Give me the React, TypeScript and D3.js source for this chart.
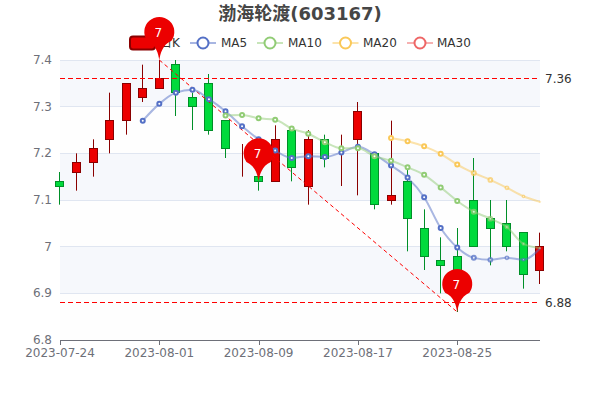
import React from "react";
import * as d3 from "d3";

const dates = ["2023-07-24","2023-07-25","2023-07-26","2023-07-27","2023-07-28","2023-07-31","2023-08-01","2023-08-02","2023-08-03","2023-08-04","2023-08-07","2023-08-08","2023-08-09","2023-08-10","2023-08-11","2023-08-14","2023-08-15","2023-08-16","2023-08-17","2023-08-18","2023-08-21","2023-08-22","2023-08-23","2023-08-24","2023-08-25","2023-08-28","2023-08-29","2023-08-30","2023-08-31","2023-09-01"];
const opens =  [7.14,7.16,7.18,7.23,7.27,7.32,7.34,7.39,7.32,7.35,7.27,7.20,7.15,7.14,7.25,7.13,7.23,7.19,7.23,7.20,7.10,7.14,7.04,6.97,6.98,7.10,7.06,7.05,7.03,6.95];
const closes = [7.13,7.18,7.21,7.27,7.35,7.34,7.36,7.33,7.30,7.25,7.21,7.20,7.14,7.23,7.17,7.23,7.19,7.19,7.29,7.09,7.11,7.06,6.98,6.96,6.90,7.00,7.04,7.00,6.94,7.00];
const lows =   [7.09,7.12,7.15,7.20,7.24,7.31,7.34,7.28,7.25,7.24,7.19,7.15,7.12,7.14,7.14,7.09,7.17,7.13,7.11,7.08,7.09,6.99,6.95,6.90,6.86,7.00,6.96,6.99,6.91,6.92];
const highs =  [7.16,7.20,7.23,7.33,7.35,7.39,7.40,7.40,7.33,7.37,7.27,7.22,7.16,7.26,7.25,7.25,7.24,7.24,7.31,7.20,7.27,7.17,7.08,7.02,7.04,7.19,7.10,7.10,7.03,7.03];

const ma5: (number | null)[] = [null,null,null,null,null,7.27,7.306,7.33,7.336,7.316,7.29,7.258,7.23,7.206,7.19,7.194,7.192,7.202,7.214,7.198,7.174,7.148,7.106,7.04,6.998,6.976,6.972,6.976,6.972,6.996];
const ma10: (number | null)[] = [null,null,null,null,null,null,null,null,null,null,7.281,7.282,7.275,7.272,7.253,7.242,7.224,7.211,7.211,7.194,7.184,7.17,7.154,7.127,7.098,7.075,7.06,7.042,7.006,6.997];
const ma20: (number | null)[] = [null,null,null,null,null,null,null,null,null,null,null,null,null,null,null,null,null,null,null,null,7.233,7.226,7.215,7.199,7.176,7.158,7.143,7.126,7.108,7.096];
const ma30: (number | null)[] = dates.map(() => null);

const yTicks = [6.8, 6.9, 7, 7.1, 7.2, 7.3, 7.4];
const priceLines = [7.36, 6.88];
const pinPoints = [
  { i: 6, v: 7.4 },
  { i: 12, v: 7.14 },
  { i: 24, v: 6.86 },
];
const pinLabel = "7";
const title = "渤海轮渡(603167)";
const maSeries = [
  { name: "MA5", data: ma5, color: "#5470c6" },
  { name: "MA10", data: ma10, color: "#91cc75" },
  { name: "MA20", data: ma20, color: "#fac858" },
  { name: "MA30", data: ma30, color: "#ee6666" },
];

const font = "'DejaVu Sans', 'Noto Sans CJK SC', sans-serif";
const x = d3.scalePoint<number>().domain(dates.map((_, i) => i)).range([60, 540]);
const y = d3.scaleLinear().domain([6.8, 7.4]).range([340, 60]);
const crisp = (v: number) => Math.floor(v - 0.01) + 0.5;
const crispY = (v: number) => Math.floor(y(v) + 0.01) + 0.5;

// The reference was caught mid-animation: the right-most symbols are still growing.
const symbolGrow = d3.scaleLinear().domain([25, 26, 27, 28, 29]).range([1, 0.95, 0.82, 0.62, 0.35]).clamp(true);
const symbolAlpha = d3.scaleLinear().domain([24, 25, 29]).range([1, 0.75, 0.5]).clamp(true);

function pinPath(tx: number, ty: number) {
  const r = 15;
  const cy = ty - 28;
  const a = 0.62;
  const lx = tx - r * Math.cos(a);
  const rx = tx + r * Math.cos(a);
  const sy = cy + r * Math.sin(a);
  return `M${tx} ${ty} C${tx - 1} ${ty - 6} ${tx - 3} ${sy + 4} ${lx} ${sy} A${r} ${r} 0 1 1 ${rx} ${sy} C${tx + 3} ${sy + 4} ${tx + 1} ${ty - 6} ${tx} ${ty} Z`;
}

const line = d3
  .line<number | null>()
  .defined((d) => d !== null)
  .x((_, i) => x(i) as number)
  .y((d) => y(d as number))
  .curve(d3.curveMonotoneX);

const legendItems = [
  { name: "MA5", cx: 203, tx: 221 },
  { name: "MA10", cx: 270, tx: 288 },
  { name: "MA20", cx: 345.5, tx: 363 },
  { name: "MA30", cx: 420, tx: 437 },
];

export default function App() {
  const bands = d3.pairs(yTicks);
  const [hi, lo] = [pinPoints[0], pinPoints[2]];
  return (
    <svg
      width={600}
      height={400}
      style={{ position: "absolute", left: 0, top: 0, background: "#fff" }}
      fontFamily={font}
    >
      <text x={300} y={20} textAnchor="middle" fontSize={18} fontWeight="bold" fill="#464646">{title}</text>

      {bands.map(([a, b], i) => (
        <rect key={i} x={60} width={480} y={y(b)} height={y(a) - y(b)} fill={i % 2 ? "#f6f8fc" : "#fefefe"} />
      ))}
      {yTicks.slice(1).map((t) => (
        <line key={t} x1={60} x2={540} y1={crispY(t)} y2={crispY(t)} stroke="#E0E6F1" />
      ))}
      <line x1={60} x2={540} y1={340.5} y2={340.5} stroke="#6E7079" />
      {dates.map((d, i) =>
        i % 6 === 0 ? (
          <g key={d}>
            <line x1={Math.round(x(i) as number) + 0.5} x2={Math.round(x(i) as number) + 0.5} y1={340} y2={345} stroke="#6E7079" />
            <text x={x(i)} y={357} textAnchor="middle" fontSize={12} fill="#6E7079">{d}</text>
          </g>
        ) : null
      )}
      {yTicks.map((t) => (
        <text key={t} x={52} y={y(t) + 4} textAnchor="end" fontSize={12} fill="#6E7079">{String(t)}</text>
      ))}

      {dates.map((d, i) => {
        const up = closes[i] >= opens[i];
        const fill = up ? "#ec0000" : "#00da3c";
        const stroke = up ? "#8a0000" : "#008f28";
        const cx = crisp(x(i) as number);
        const top = crispY(Math.max(opens[i], closes[i]));
        const bot = crispY(Math.min(opens[i], closes[i]));
        return (
          <g key={d}>
            <line x1={cx} x2={cx} y1={y(highs[i])} y2={y(lows[i])} stroke={stroke} />
            <rect x={cx - 4} y={top} width={8} height={Math.max(bot - top, 0)} fill={fill} stroke={stroke} />
          </g>
        );
      })}

      {priceLines.map((v) => (
        <g key={v}>
          <line x1={60} x2={540} y1={crispY(v)} y2={crispY(v)} stroke="#ff0000" strokeWidth={1.2} strokeDasharray="5 3" />
          <text x={545} y={y(v) + 4} fontSize={12} fill="#333">{v.toFixed(2)}</text>
        </g>
      ))}
      <line
        x1={x(hi.i)}
        y1={y(hi.v)}
        x2={x(lo.i)}
        y2={y(lo.v)}
        stroke="#ff0000"
        strokeDasharray="4 3"
      />

      {maSeries.map((s) => (
        <g key={s.name}>
          <path d={line(s.data) ?? ""} fill="none" stroke={s.color} strokeWidth={2} opacity={0.5} />
          {s.data.map((v, i) =>
            v === null ? null : (
              <circle
                key={i}
                cx={x(i)}
                cy={y(v)}
                r={2 * symbolGrow(i)}
                fill="#fff"
                stroke={s.color}
                strokeWidth={2 * symbolGrow(i)}
                opacity={symbolAlpha(i)}
              />
            )
          )}
        </g>
      ))}

      {/* legend */}
      <rect x={130} y={36.5} width={25} height={13} rx={3} fill="#ec0000" stroke="#8a0000" strokeWidth={2} />
      <text x={160} y={47} fontSize={12} fill="#333">日K</text>
      {legendItems.map((l, i) => (
        <g key={l.name}>
          <line x1={l.cx - 13} x2={l.cx + 13} y1={43} y2={43} stroke={maSeries[i].color} strokeWidth={2} opacity={0.5} />
          <circle cx={l.cx} cy={43} r={5.5} fill="#fff" stroke={maSeries[i].color} strokeWidth={2} />
          <text x={l.tx} y={47} fontSize={12} fill="#333">{l.name}</text>
        </g>
      ))}

      {pinPoints.map((p) => {
        const tx = x(p.i) as number;
        const ty = y(p.v);
        return (
          <g key={p.i}>
            <path d={pinPath(tx, ty)} fill="#ec0000" />
            <text x={tx - 1} y={ty - 23} textAnchor="middle" fontSize={12} fill="#fff">{pinLabel}</text>
          </g>
        );
      })}
    </svg>
  );
}
